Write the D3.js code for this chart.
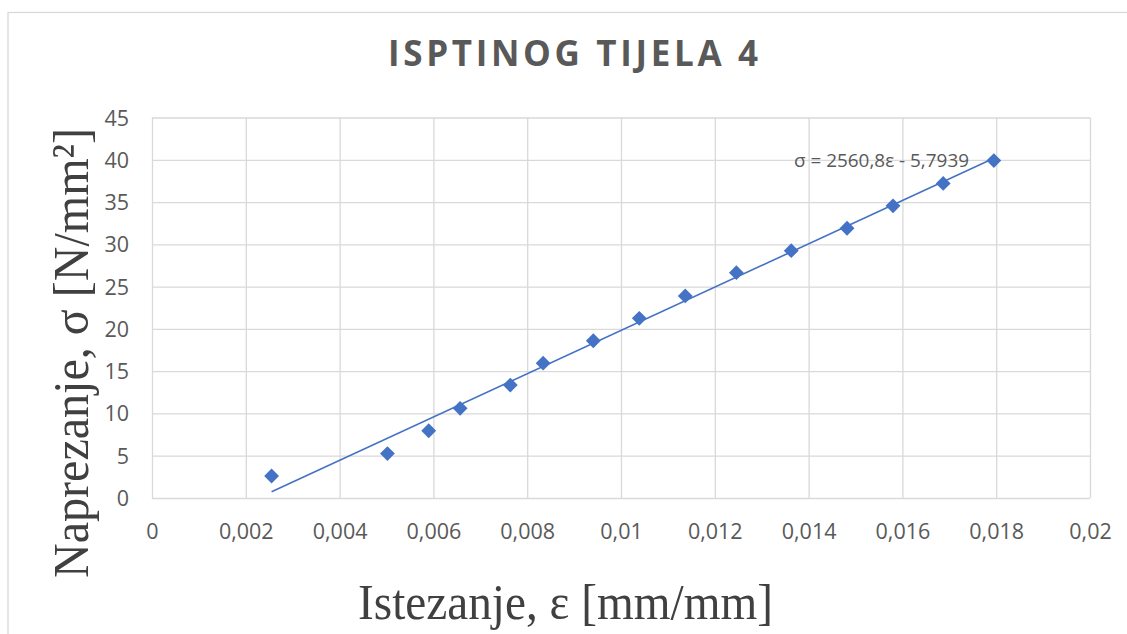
<!DOCTYPE html>
<html><head><meta charset="utf-8">
<script src="https://cdn.jsdelivr.net/npm/d3@7"></script>
<style>html,body{margin:0;padding:0;background:#fff;}svg{display:block;}</style>
</head><body>
<svg id="c" width="1127" height="634"></svg>
<script>
// ---- data ----
const strain = [0.00255, 0.00502, 0.00590, 0.00657, 0.00764, 0.00834, 0.00941, 0.01039, 0.01137, 0.01246, 0.01363, 0.01482, 0.01580, 0.01687, 0.01795];
const stress = [2.6, 5.25, 7.95, 10.6, 13.35, 15.95, 18.6, 21.25, 23.9, 26.65, 29.25, 31.9, 34.55, 37.2, 39.9];
const xTicks = [0, 0.002, 0.004, 0.006, 0.008, 0.01, 0.012, 0.014, 0.016, 0.018, 0.02];
const xTickLabels = ["0", "0,002", "0,004", "0,006", "0,008", "0,01", "0,012", "0,014", "0,016", "0,018", "0,02"];
const yTicks = [0, 5, 10, 15, 20, 25, 30, 35, 40, 45];
const trendSlope = 2560.8;
const trendIntercept = -5.7939;
const titleText = "ISPTINOG TIJELA 4";
const xTitle = "Istezanje, ε [mm/mm]";
const yTitle = "Naprezanje, σ [N/mm²]";
const eqText = "σ = 2560,8ε - 5,7939";

// ---- layout ----
const svg = d3.select("#c");
const L = 152, R = 1090, T = 117.5, B = 498;
const blue = "#4472C4", grid = "#d9d9d9", txt = "#595959";

svg.append("rect").attr("x", 8).attr("y", 12.5).attr("width", 1200).attr("height", 700)
  .attr("fill", "#fff").attr("stroke", grid).attr("stroke-width", 1.3);

const x = d3.scaleLinear().domain([0, 0.02]).range([L, R]);
const y = d3.scaleLinear().domain([0, 45]).range([B, T]);

// gridlines
const gx = svg.append("g").attr("transform", `translate(0,${B})`)
  .call(d3.axisBottom(x).tickValues(xTicks).tickSize(-(B - T)).tickFormat(""));
const gy = svg.append("g").attr("transform", `translate(${L},0)`)
  .call(d3.axisLeft(y).tickValues(yTicks).tickSize(-(R - L)).tickFormat(""));
[gx, gy].forEach(g => {
  g.select(".domain").remove();
  g.selectAll("line").attr("stroke", grid).attr("stroke-width", 1.3);
});

// tick labels
const xa = svg.append("g").attr("transform", `translate(0,${B})`)
  .call(d3.axisBottom(x).tickValues(xTicks).tickSize(0).tickPadding(0)
    .tickFormat((d, i) => xTickLabels[i]));
xa.select(".domain").remove();
xa.selectAll("text").attr("y", 34).attr("dy", "0.32em")
  .attr("font-family", "'Open Sans', sans-serif").attr("font-size", 21.5).attr("fill", txt);

const ya = svg.append("g").attr("transform", `translate(${L},0)`)
  .call(d3.axisLeft(y).tickValues(yTicks).tickSize(0).tickPadding(0).tickFormat(d => String(d)));
ya.select(".domain").remove();
ya.selectAll("text").attr("x", -23).attr("dy", "0.35em")
  .attr("font-family", "'Open Sans', sans-serif").attr("font-size", 21.5).attr("fill", txt);

// trendline
const xMin = d3.min(strain), xMax = d3.max(strain);
const line = d3.line().x(d => x(d)).y(d => y(trendSlope * d + trendIntercept));
svg.append("path").datum([xMin, xMax]).attr("d", line)
  .attr("fill", "none").attr("stroke", blue).attr("stroke-width", 1.6);

// markers (diamonds)
const sym = d3.symbol().type(d3.symbolDiamond2).size(140);
svg.append("g").selectAll("path").data(strain).join("path")
  .attr("d", sym)
  .attr("transform", (d, i) => `translate(${x(d)},${y(stress[i])})`)
  .attr("fill", blue);

// equation
svg.append("text").attr("x", 794).attr("y", 167).text(eqText)
  .attr("font-family", "'Open Sans', sans-serif").attr("font-size", 18.5).attr("fill", txt)
  .attr("textLength", 175).attr("lengthAdjust", "spacingAndGlyphs");

// title
svg.append("text").attr("x", 388).attr("y", 66).text(titleText)
  .attr("font-family", "'Open Sans', sans-serif").attr("font-weight", "bold")
  .attr("font-size", 35).attr("fill", txt)
  .attr("textLength", 370).attr("lengthAdjust", "spacing");

// axis titles
svg.append("text").attr("x", 358).attr("y", 619).text(xTitle)
  .attr("font-family", "'Liberation Serif', 'Times New Roman', serif")
  .attr("font-size", 51).attr("fill", "#404040")
  .attr("textLength", 415).attr("lengthAdjust", "spacingAndGlyphs");

svg.append("text").attr("transform", "translate(88,578) rotate(-90)").text(yTitle)
  .attr("font-family", "'Liberation Serif', 'Times New Roman', serif")
  .attr("font-size", 51).attr("fill", "#404040")
  .attr("textLength", 450).attr("lengthAdjust", "spacingAndGlyphs");
</script>
</body></html>
